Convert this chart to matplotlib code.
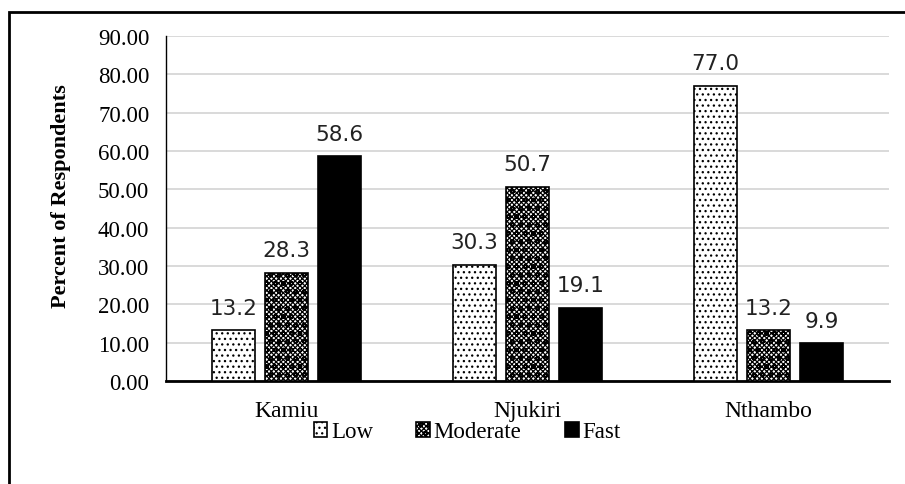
import numpy as np
import matplotlib
matplotlib.use("Agg")
import matplotlib.pyplot as plt
from matplotlib.patches import Rectangle
from matplotlib.font_manager import FontProperties

# values
sites = ["Kamiu", "Njukiri", "Nthambo"]
levels = ["Low", "Moderate", "Fast"]
low = [13.2, 30.3, 77.0]
moderate = [28.3, 50.7, 13.2]
fast = [58.6, 19.1, 9.9]
yticks = [0, 10, 20, 30, 40, 50, 60, 70, 80, 90]

serif = "Liberation Serif"
plt.rcParams["hatch.linewidth"] = 0.9

fig = plt.figure(figsize=(9.05, 4.85), dpi=100)
ax = fig.add_axes([0.1834, 0.2124, 0.7989, 0.7113])

x = np.arange(len(sites))
width = 0.178
step = 0.22
styles = [
    dict(facecolor="white", hatch="..."),
    dict(facecolor="white", hatch="xxxxxxxoo"),
    dict(facecolor="black", hatch=None),
]

for i, (vals, name, st) in enumerate(zip([low, moderate, fast], levels, styles)):
    bars = ax.bar(x + (i - 1) * step, vals, width, label=name,
                  edgecolor="black", linewidth=1.2, zorder=3, **st)
    ax.bar_label(bars, labels=["%.1f" % v for v in vals], padding=9,
                 fontsize=15.5, family="DejaVu Sans", color="#222222")

ax.set_xlim(-0.5, 2.5)
ax.set_ylim(0, 90)
ax.set_yticks(yticks)
ax.set_yticklabels(["%.2f" % t for t in yticks], family=serif, fontsize=16.5)
ax.set_xticks(x)
ax.set_xticklabels(sites, family=serif, fontsize=17)
ax.tick_params(axis="y", length=0, pad=12)
ax.tick_params(axis="x", length=0, pad=14)
ax.yaxis.grid(True, color="#d9d9d9", linewidth=1.4, zorder=0)
ax.set_axisbelow(True)
for s in ["top", "right"]:
    ax.spines[s].set_visible(False)
ax.spines["left"].set_linewidth(1.0)
ax.spines["bottom"].set_linewidth(2.0)

ax.set_ylabel("Percent of Respondents", family=serif, fontsize=16,
              fontweight="bold")
ax.yaxis.set_label_coords(-0.132, 0.54)

leg_font = FontProperties(family=serif, size=16.5)
leg = fig.legend(loc="center", bbox_to_anchor=(467 / 905, 1 - 433 / 485),
                 ncol=3, frameon=False, prop=leg_font,
                 handlelength=0.6, handleheight=0.6, handletextpad=0.15,
                 columnspacing=1.9)

# outer frame, cut off on the right and bottom like the source image
fig.patches.append(Rectangle((9 / 905, -0.1), 1.2, 1.1 - 13 / 485,
                             transform=fig.transFigure, fill=False,
                             edgecolor="black", linewidth=2.0))

fig.savefig("out.png", dpi=100)
